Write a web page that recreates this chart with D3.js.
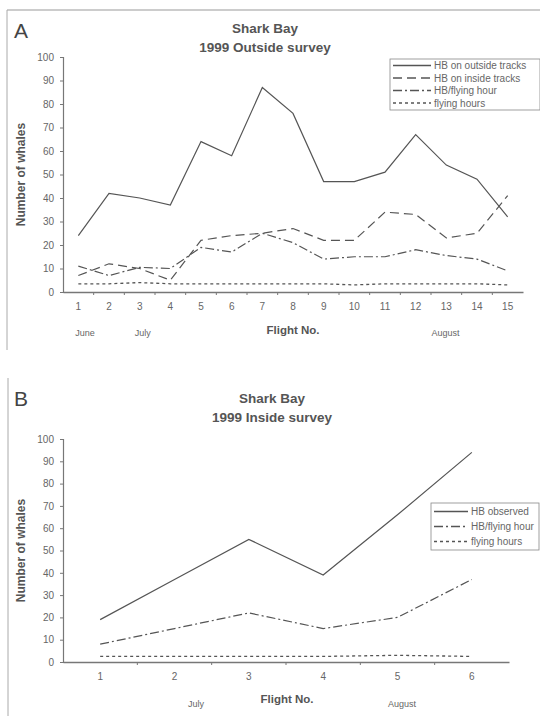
<!DOCTYPE html>
<html><head><meta charset="utf-8">
<script src="https://cdn.jsdelivr.net/npm/d3@7"></script>
<style>body{margin:0;background:#fff}svg{display:block}text{font-family:"Liberation Sans",Arial,sans-serif}</style>
</head><body>
<svg id="c" width="540" height="716"></svg>
<script>
// Panel A data
const flightsA = [1,2,3,4,5,6,7,8,9,10,11,12,13,14,15];
const hbOutside = [24,42,40,37,64,58,87,76,47,47,51,67,54,48,32];
const hbInside  = [7,12,10,5,22,24,25,27,22,22,34,33,23,25,41];
const hbPerHourA = [11,7,10.5,10,19,17,25,21,14,15,15,18,15.5,14,9];
const flyingHoursA = [3.5,3.5,4,3.5,3.5,3.5,3.5,3.5,3.5,3,3.5,3.5,3.5,3.5,3];
const monthsA = [{at:1.22,label:"June"},{at:3.1,label:"July"},{at:12.97,label:"August"}];
// Panel B data
const flightsB = [1,2,3,4,5,6];
const hbObserved = [19,37,55,39,66,94];
const hbPerHourB = [8,15,22,15,20,37];
const flyingHoursB = [2.5,2.5,2.5,2.5,3,2.5];
const monthsB = [{at:2.29,label:"July"},{at:5.06,label:"August"}];
const yTicks = [0,10,20,30,40,50,60,70,80,90,100];

const svg = d3.select("#c");
const gray = "#555", axisGray = "#777";
const styles = {
  solid: null, dashed: "9,5", dashdot: "9,3,2,3", dotted: "3,3"
};

// frame lines (scan borders)
svg.append("line").attr("x1",7).attr("x2",540).attr("y1",10).attr("y2",10).attr("stroke","#999").attr("stroke-width",1.2);
svg.append("line").attr("x1",7).attr("x2",7).attr("y1",10).attr("y2",350).attr("stroke","#aaa");
svg.append("line").attr("x1",8).attr("x2",8).attr("y1",378).attr("y2",716).attr("stroke","#aaa");

function panel(cfg){
  const x = d3.scaleBand().domain(cfg.flights).range([cfg.x0,cfg.x1]);
  const xf = d3.scaleLinear().domain([cfg.flights[0], cfg.flights[cfg.flights.length-1]])
    .range([x(cfg.flights[0])+x.bandwidth()/2, x(cfg.flights[cfg.flights.length-1])+x.bandwidth()/2]);
  const y = d3.scaleLinear().domain([0,100]).range([cfg.y0,cfg.y1]);
  const g = svg.append("g");
  // panel letter
  g.append("text").attr("x",14).attr("y",cfg.letterY).attr("font-size",21).attr("fill","#444").text(cfg.letter);
  // titles
  g.append("text").attr("x",cfg.titleX).attr("y",cfg.titleY).attr("text-anchor","middle").attr("font-size",13.5).attr("font-weight","bold").attr("fill","#555").text("Shark Bay");
  g.append("text").attr("x",cfg.titleX).attr("y",cfg.titleY+19).attr("text-anchor","middle").attr("font-size",13.5).attr("font-weight","bold").attr("fill","#555").text(cfg.title);
  // y axis
  const ya = g.append("g").attr("transform",`translate(${cfg.x0},0)`)
    .call(d3.axisLeft(y).tickValues(yTicks).tickSize(3).tickPadding(6));
  ya.select(".domain").attr("stroke",axisGray).attr("stroke-width",1.2);
  ya.selectAll(".tick line").attr("stroke",axisGray);
  ya.selectAll("text").attr("font-size",10).attr("fill","#666").style("font-family","'Liberation Sans',Arial,sans-serif");
  // x axis
  const xa = g.append("g").attr("transform",`translate(0,${cfg.y0})`)
    .call(d3.axisBottom(x).tickSize(0).tickPadding(cfg.tickPad));
  xa.select(".domain").attr("stroke",axisGray).attr("stroke-width",1.5);
  xa.selectAll("text").attr("font-size",10).attr("fill","#666").style("font-family","'Liberation Sans',Arial,sans-serif");
  // boundary tick marks
  const bounds = cfg.flights.slice(1).map(f=>x(f));
  g.selectAll(null).data(bounds).join("line")
    .attr("x1",d=>d).attr("x2",d=>d).attr("y1",cfg.y0).attr("y2",cfg.y0+3).attr("stroke",axisGray);
  // y label
  g.append("text").attr("transform",`translate(${cfg.ylabX},${(cfg.y0+cfg.y1)/2}) rotate(-90)`)
    .attr("text-anchor","middle").attr("font-size",12).attr("font-weight","bold").attr("fill","#555").text("Number of whales");
  // x label
  g.append("text").attr("x",cfg.xlabX).attr("y",cfg.xlabY).attr("text-anchor","middle").attr("font-size",11.5).attr("font-weight","bold").attr("fill","#555").text("Flight No.");
  // months
  g.selectAll(null).data(cfg.months).join("text")
    .attr("x",d=>xf(d.at)).attr("y",cfg.monthY).attr("text-anchor","middle")
    .attr("font-size",9).attr("fill","#666").text(d=>d.label);
  // lines
  const line = d3.line().x((d,i)=>x(cfg.flights[i])+x.bandwidth()/2).y(d=>y(d));
  cfg.series.forEach(s=>{
    g.append("path").datum(s.values).attr("d",line).attr("fill","none")
      .attr("stroke",gray).attr("stroke-width",s.style==="dotted"?1.3:1.2)
      .attr("stroke-dasharray",styles[s.style]);
  });
  // legend
  const L = cfg.legend;
  const lg = g.append("g");
  lg.append("rect").attr("x",L.x).attr("y",L.y).attr("width",L.w).attr("height",L.h)
    .attr("fill","#fff").attr("stroke","#888").attr("stroke-width",0.8);
  cfg.series.forEach((s,i)=>{
    const yy = L.y + L.first + i*L.step;
    lg.append("line").attr("x1",L.x+3).attr("x2",L.x+3+L.len).attr("y1",yy).attr("y2",yy)
      .attr("stroke",gray).attr("stroke-width",1.3).attr("stroke-dasharray",styles[s.style]);
    lg.append("text").attr("x",L.x+6+L.len).attr("y",yy+3.5).attr("font-size",L.fs).attr("fill","#666").text(s.name);
  });
}

panel({
  letter:"A", letterY:38, title:"1999 Outside survey", titleX:265, titleY:33,
  flights:flightsA, x0:63, x1:523, y0:292, y1:57, tickPad:11,
  ylabX:25, xlabX:293, xlabY:334, monthY:336,
  months:monthsA,
  series:[
    {name:"HB on outside tracks", values:hbOutside, style:"solid"},
    {name:"HB on inside tracks", values:hbInside, style:"dashed"},
    {name:"HB/flying hour", values:hbPerHourA, style:"dashdot"},
    {name:"flying hours", values:flyingHoursA, style:"dotted"}
  ],
  legend:{x:390, y:59, w:150, h:51, first:6.5, step:12.5, len:38, fs:10}
});

panel({
  letter:"B", letterY:406, title:"1999 Inside survey", titleX:272, titleY:403,
  flights:flightsB, x0:63, x1:509, y0:662, y1:439, tickPad:11,
  ylabX:25, xlabX:287, xlabY:703, monthY:707,
  months:monthsB,
  series:[
    {name:"HB observed", values:hbObserved, style:"solid"},
    {name:"HB/flying hour", values:hbPerHourB, style:"dashdot"},
    {name:"flying hours", values:flyingHoursB, style:"dotted"}
  ],
  legend:{x:431, y:503, w:108, h:47, first:8.5, step:15, len:34, fs:10}
});
</script>
</body></html>
